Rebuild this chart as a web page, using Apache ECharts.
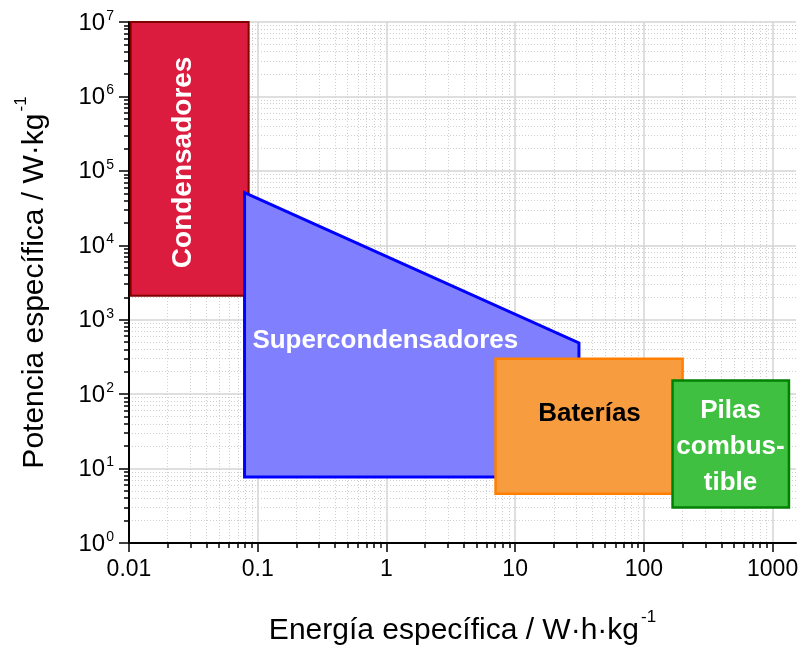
<!DOCTYPE html>
<html>
<head>
<meta charset="utf-8">
<script src="https://cdn.jsdelivr.net/npm/echarts@6/dist/echarts.min.js"></script>
<style>
    html, body { margin: 0; padding: 0; background: #fff; }
    #chart { width: 801px; height: 648px; }
</style>
</head>
<body>
<div id="chart"></div>
<script>
// datos del diagrama de Ragone
var xMajor = [0.01, 0.1, 1, 10, 100, 1000]
var yMajor = [1, 10, 100, 1e3, 1e4, 1e5, 1e6, 1e7]

var shapeNames = ['Condensadores', 'Supercondensadores', 'Baterías', 'Pilas\ncombus-\ntible']
// vértices de cada zona (energía en W·h/kg, potencia en W/kg)
var shapeEnergy = [
    [0.0103, 0.085, 0.085, 0.0103],
    [0.079, 31.3, 31.3, 0.079],
    [7.04, 200, 200, 7.04],
    [167, 1340, 1340, 167]
]
var shapePower = [
    [1e7, 1e7, 2100, 2100],
    [5.1e4, 488, 7.7, 7.7],
    [300, 300, 4.6, 4.6],
    [153, 153, 3, 3]
]
// punto donde va cada rótulo
var labelEnergy = [0.0265, 0.98, 37.8, 471]
var labelPower = [1.3e5, 524, 54.6, 19.7]

var fills = ['#dc1c3e', '#8080ff', '#f89c40', '#40c040']
var borders = ['#800000', '#0000ff', '#ff7f00', '#008000']
var borderWidths = [2, 3, 2.5, 2.5]
var textColors = ['#fff', '#fff', '#000', '#fff']
var textSizes = [28, 26, 26, 26]

// subdivisiones 2..9 de cada década
var minorTicks = function (from, to, max) {
    var res = []
    for (var n = from; n <= to; n++) {
        for (var k = 2; k <= 9; k++) {
            var v = k * Math.pow(10, n)
            if (v < max) res.push(v)
        }
    }
    return res
}
var xMinor = minorTicks(-2, 3, 1520)
var yMinor = minorTicks(0, 6, 1e7)

var chart = echarts.init(document.getElementById('chart'))

var font = 'Liberation Sans, Arial, sans-serif'

var majorGrid = { show: true, lineStyle: { color: '#d4d4d4', width: 1.5 } }
var minorGrid = { show: true, lineStyle: { color: '#cfcfcf', width: 1, type: [1, 2] } }

var titleRich = {
    a: { fontFamily: font, fontSize: 30, color: '#000', verticalAlign: 'bottom' },
    s: { fontFamily: font, fontSize: 17, color: '#000', verticalAlign: 'bottom', padding: [0, 0, 20, 2] }
}

var option = {
    animation: false,
    grid: { left: 129, right: 5, top: 22, bottom: 105, outerBoundsMode: 'none', containLabel: false },
    xAxis: [
        {
            type: 'log', logBase: 10, min: 0.01, max: 1520,
            position: 'bottom',
            name: '{a|Energía específica / W·h·kg}{s|-1}',
            nameLocation: 'middle',
            nameGap: 66,
            nameTextStyle: { rich: titleRich },
            axisLine: { show: true, lineStyle: { color: '#000', width: 2 } },
            axisTick: { show: true, length: 9, customValues: xMajor, lineStyle: { color: '#000', width: 1.5 } },
            axisLabel: {
                customValues: xMajor, margin: 15,
                fontFamily: font, fontSize: 23, color: '#000',
                formatter: function (v) { return String(v) }
            },
            splitLine: majorGrid
        },
        {
            type: 'log', logBase: 10, min: 0.01, max: 1520,
            position: 'bottom',
            axisLine: { show: false },
            axisTick: { show: true, length: 5, customValues: xMinor, lineStyle: { color: '#000', width: 1.5 } },
            axisLabel: { show: false },
            splitLine: minorGrid
        }
    ],
    yAxis: [
        {
            type: 'log', logBase: 10, min: 1, max: 1e7,
            position: 'left',
            name: '{a|Potencia específica / W·kg}{s|-1}',
            nameLocation: 'middle',
            nameGap: 79,
            nameTextStyle: { rich: titleRich },
            axisLine: { show: true, lineStyle: { color: '#000', width: 2 } },
            axisTick: { show: true, length: 10, customValues: yMajor, lineStyle: { color: '#000', width: 1.5 } },
            axisLabel: {
                customValues: yMajor, margin: 15,
                formatter: function (v) {
                    return '{b|10}{s|' + Math.round(Math.log10(v)) + '}'
                },
                rich: {
                    b: { fontFamily: font, fontSize: 24, color: '#000', verticalAlign: 'bottom' },
                    s: { fontFamily: font, fontSize: 14, color: '#000', verticalAlign: 'bottom', padding: [0, 0, 12, 1] }
                }
            },
            splitLine: majorGrid
        },
        {
            type: 'log', logBase: 10, min: 1, max: 1e7,
            position: 'left',
            axisLine: { show: false },
            axisTick: { show: true, length: 5, customValues: yMinor, lineStyle: { color: '#000', width: 1.5 } },
            axisLabel: { show: false },
            splitLine: minorGrid
        }
    ],
    series: [
        {
            type: 'custom',
            xAxisIndex: 0,
            yAxisIndex: 0,
            clip: false,
            data: shapeNames.map(function (n, i) { return [labelEnergy[i], labelPower[i]] }),
            renderItem: function (params, api) {
                var i = params.dataIndex
                var pts = shapeEnergy[i].map(function (x, k) {
                    return api.coord([x, shapePower[i][k]])
                })
                var c = api.coord([api.value(0), api.value(1)])
                return {
                    type: 'group',
                    children: [
                        {
                            type: 'polygon',
                            shape: { points: pts },
                            style: { fill: fills[i], stroke: borders[i], lineWidth: borderWidths[i] }
                        },
                        {
                            type: 'text',
                            x: c[0], y: c[1],
                            rotation: i === 0 ? Math.PI / 2 : 0,
                            style: {
                                text: shapeNames[i],
                                fill: textColors[i],
                                font: 'bold ' + textSizes[i] + 'px ' + font,
                                align: 'center',
                                verticalAlign: 'middle',
                                lineHeight: 36
                            }
                        }
                    ]
                }
            }
        }
    ]
}

chart.setOption(option)
</script>
</body>
</html>
